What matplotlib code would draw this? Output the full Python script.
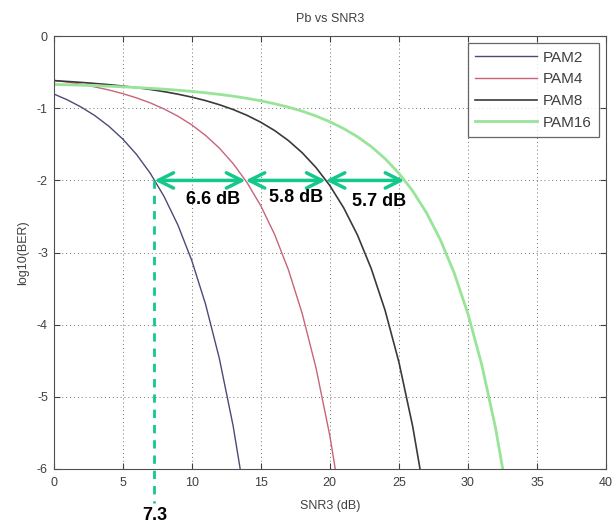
import matplotlib
matplotlib.use("Agg")
import matplotlib.pyplot as plt

plt.rcParams['font.family'] = ['Liberation Sans', 'DejaVu Sans']
plt.rcParams['axes.unicode_minus'] = False

# SNR3 in dB (1 dB steps)
snr_db = list(range(0, 34))

# log10(BER)
pam2 = [-0.800, -0.883, -0.983, -1.103, -1.248, -1.424, -1.638, -1.900, -2.222,
        -2.617, -3.106, -3.712, -4.465, -5.401, -6.569]
pam4 = [-0.610, -0.637, -0.667, -0.704, -0.746, -0.796, -0.855, -0.925, -1.009,
        -1.109, -1.229, -1.375, -1.551, -1.766, -2.028, -2.350, -2.747, -3.237,
        -3.844, -4.598, -5.537, -6.708]
pam8 = [-0.617, -0.628, -0.641, -0.656, -0.672, -0.691, -0.713, -0.739, -0.769,
        -0.804, -0.845, -0.893, -0.950, -1.017, -1.097, -1.193, -1.308, -1.447,
        -1.616, -1.821, -2.071, -2.378, -2.756, -3.223, -3.800, -4.517, -5.409,
        -6.521]
pam16 = [-0.669, -0.674, -0.680, -0.686, -0.694, -0.702, -0.712, -0.723, -0.735,
         -0.749, -0.766, -0.785, -0.807, -0.832, -0.862, -0.896, -0.937, -0.984,
         -1.040, -1.107, -1.186, -1.281, -1.394, -1.531, -1.698, -1.900, -2.146,
         -2.449, -2.821, -3.281, -3.849, -4.555, -5.433, -6.528]

series_names = ["PAM2", "PAM4", "PAM8", "PAM16"]

# annotation values
ber_ref = -2.0
snr_marks = [7.3, 13.9, 19.7, 25.4]
gap_labels = ["6.6 dB", "5.8 dB", "5.7 dB"]
first_label = "7.3"

xticks = [0, 5, 10, 15, 20, 25, 30, 35, 40]
yticks = [0, -1, -2, -3, -4, -5, -6]

fig = plt.figure(figsize=(6.16, 5.24), dpi=100)
ax = fig.add_axes([0.0869, 0.105, 0.897, 0.826])

tick_col = '#404040'
ax.plot(snr_db[:len(pam2)], pam2, color='#4a4a78', lw=1.0, label=series_names[0])
ax.plot(snr_db[:len(pam4)], pam4, color='#c86478', lw=1.0, label=series_names[1])
ax.plot(snr_db[:len(pam8)], pam8, color='#3a3a3a', lw=1.2, label=series_names[2])
ax.plot(snr_db[:len(pam16)], pam16, color='#98e498', lw=2.0, label=series_names[3])

ax.set_xlim(0, 40)
ax.set_ylim(-6, 0)
ax.set_xticks(xticks)
ax.set_yticks(yticks)
ax.tick_params(direction='in', top=True, right=True, labelsize=9,
               colors=tick_col, length=4, width=0.8)
ax.tick_params(axis='x', pad=6)
ax.tick_params(axis='y', pad=4)
for sp in ax.spines.values():
    sp.set_color('#505050')
    sp.set_linewidth(0.8)
ax.grid(True, linestyle=(0, (1, 3)), color='#707070', linewidth=0.7)

ax.set_title("Pb vs SNR3", fontsize=9, color=tick_col, pad=10)
ax.set_xlabel("SNR3 (dB)", fontsize=9, color=tick_col, labelpad=8)
ax.set_ylabel("log10(BER)", fontsize=9, color=tick_col, labelpad=6)

leg = ax.legend(loc='upper right', fontsize=11, frameon=True, fancybox=False,
                borderaxespad=0.45, handlelength=4.0, labelspacing=0.5,
                borderpad=0.5, handletextpad=0.4)
leg.get_frame().set_edgecolor('#404040')
leg.get_frame().set_linewidth(0.9)
for t in leg.get_texts():
    t.set_color(tick_col)

green = '#14c88c'
for a, b in zip(snr_marks[:-1], snr_marks[1:]):
    ax.annotate('', xy=(b, ber_ref), xytext=(a, ber_ref),
                arrowprops=dict(arrowstyle='<->,head_length=1.1,head_width=0.55',
                                color=green, lw=2.5, shrinkA=0, shrinkB=0))

label_x = [11.55, 17.55, 23.6]
label_y = [-2.27, -2.23, -2.29]
for x, y, t in zip(label_x, label_y, gap_labels):
    ax.text(x, y, t, fontsize=13, fontweight='bold', ha='center',
            va='center', color='black')

ax.plot([snr_marks[0], snr_marks[0]], [ber_ref, -6.47], color=green, lw=2.0,
        linestyle=(0, (3, 2.5)), clip_on=False)
ax.text(snr_marks[0], -6.64, first_label, fontsize=13, fontweight='bold',
        ha='center', va='center', color='black', clip_on=False)

fig.savefig("out.png")
